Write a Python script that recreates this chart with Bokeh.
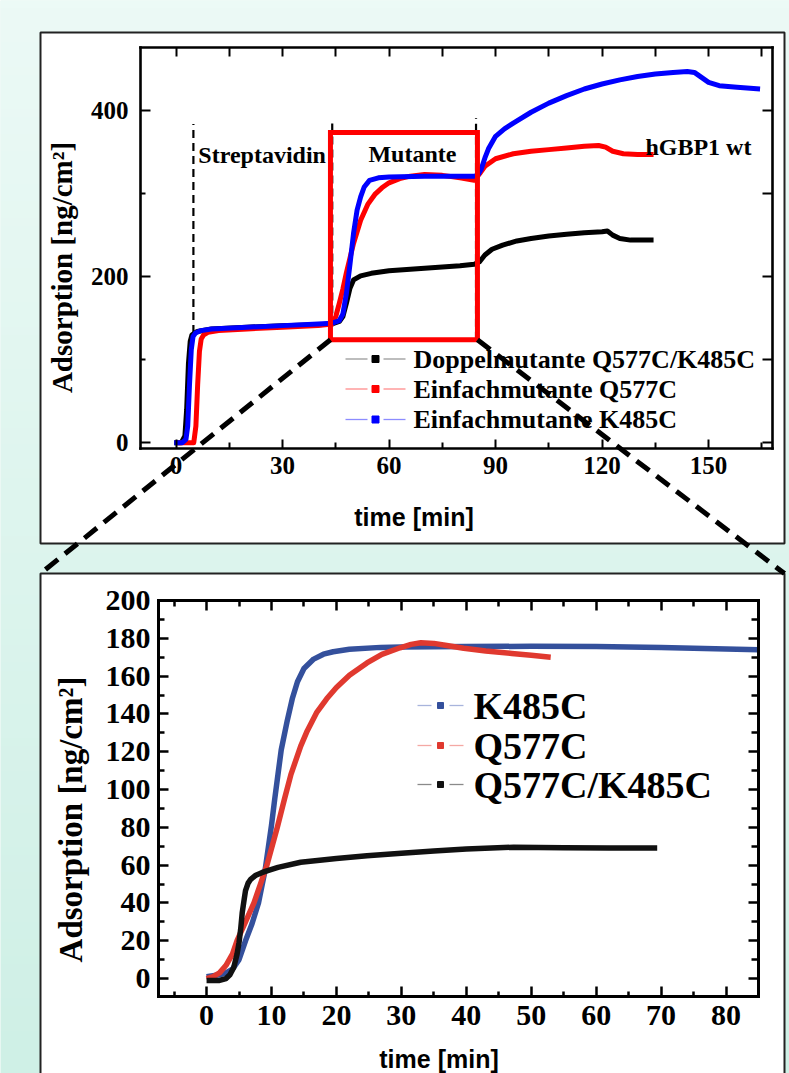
import numpy as np
from bokeh.plotting import figure
from bokeh.models import Range1d, LinearAxis, FixedTicker, CustomJSTickFormatter
from bokeh.core.properties import value
from bokeh.embed import file_html
from bokeh.resources import INLINE

W, H = 789, 1073

# ---------------- overview panel (top): time [min] vs adsorption [ng/cm2] ----------------
ov_t_doppel = [-0.5, 1.5, 2.5, 3.0, 3.5, 4.0, 4.5, 6, 10, 20, 30, 40, 44, 46, 47, 48, 49, 50, 52, 55,
               60, 70, 80, 84, 85.5, 87, 89, 92, 96, 100, 105, 110, 115, 120, 121.5, 123, 125, 128, 134.5]
ov_y_doppel = [0, 0, 8, 40, 95, 122, 130, 134, 137, 139, 141, 142, 143, 146, 152, 168, 186, 196, 201, 204,
               207, 210, 213, 215, 218, 226, 233, 238, 243, 246, 249, 251, 253, 254, 255, 250, 246, 244, 244]

ov_t_q577c = [0.5, 5.0, 5.6, 6.1, 6.6, 7.1, 7.8, 9, 12, 20, 30, 40, 44, 45, 46, 47, 48, 50, 52, 54, 56, 58,
              60, 63, 66, 70, 75, 80, 84, 85.5, 87, 90, 95, 100, 105, 110, 115, 119, 121, 123, 126, 130, 134.5]
ov_y_q577c = [0, 0, 20, 70, 110, 125, 130, 133, 135, 137, 139, 141, 143, 152, 168, 185, 205, 240, 268, 287,
              299, 307, 313, 318, 321, 323, 322, 319, 316, 324, 333, 342, 348, 351, 353, 355, 357, 358, 356,
              351, 348, 347, 347]

ov_t_k485c = [-0.5, 1.8, 2.8, 3.3, 3.8, 4.3, 4.8, 5.5, 7, 10, 20, 30, 40, 44, 46, 47, 48, 49, 50, 51, 52, 53,
              54.5, 57, 60, 70, 80, 84, 85, 86, 87, 88, 90, 92.5, 95, 100, 105, 110, 115, 120, 125, 130, 135,
              140, 144, 146, 148, 150, 153, 158, 164.5]
ov_y_k485c = [0, 0, 4, 20, 70, 112, 128, 132, 135, 137, 139, 141, 143, 144, 147, 155, 180, 215, 252, 280,
              296, 308, 316, 319, 320, 321, 321, 321, 322, 330, 343, 354, 369, 378, 385, 398, 409, 418, 426,
              432, 437, 441, 444, 446, 447, 446, 440, 434, 430, 428, 426]

ov_xlim = (-10, 168)
ov_ylim = (-7, 476)
ov_xticks = [0, 30, 60, 90, 120, 150]
ov_xminor = [15, 45, 75, 105, 135, 165]
ov_yticks = [0, 200, 400]
ov_yminor = [100, 300]

ov_legend_labels = ["Doppelmutante Q577C/K485C", "Einfachmutante Q577C", "Einfachmutante K485C"]
phase_labels = ["Streptavidin", "Mutante", "hGBP1 wt"]
phase_label_t = [6.3, 54.2, 132.2]
phase_label_y = [346, 348, 356]
phase_line_t = [4.9, 44.0, 84.5]
phase_line_top = [384, 388, 391]
phase_line_bottom = [132, 140, 124]
zoom_t0, zoom_t1 = 43.5, 84.9
zoom_y0, zoom_y1 = 124, 373.6

# ---------------- zoom panel (bottom) ----------------
zm_t_k485c = [0, 2, 3, 4, 5, 6, 7, 8, 9, 9.5, 10, 10.5, 11, 11.5, 12.4, 13.2, 14, 15, 16.5, 18,
              19.5, 22, 26.8, 30, 40, 50, 60, 70, 80, 85]
zm_y_k485c = [1, 2, 3, 5, 10, 20, 29, 40, 57, 69, 81, 95, 108, 121, 136, 148, 157, 164, 169, 171.6,
              172.9, 174.2, 175.2, 175.4, 175.6, 175.8, 175.6, 175.2, 174.4, 173.9]

zm_t_q577c = [0, 1, 2, 3, 4, 4.7, 6, 7.3, 8.3, 9.3, 10.9, 12, 13, 14.5, 15.5, 17, 18.5, 20, 22, 24.7,
              27, 29.8, 31.5, 33, 35, 37, 39.6, 43, 47, 50, 53]
zm_y_q577c = [0, 1, 3, 7, 13, 20, 30, 40, 50, 60, 80, 95, 108, 123, 131, 141, 148, 154, 160.5, 167,
              171.5, 175, 176.8, 177.6, 177.3, 176.2, 174.7, 173.3, 172, 171, 170]

zm_t_doppel = [0, 2, 3, 3.6, 4.2, 4.7, 5.0, 5.25, 5.5, 5.8, 6.0, 6.4, 6.8, 7.5, 8.5, 9.3, 11, 14.5, 20,
               24.7, 30, 35, 40, 47.3, 55, 62, 69.4]
zm_y_doppel = [-1, -1, 0, 2, 6, 13, 19, 26, 35, 42, 46.5, 50.5, 52.5, 54.5, 56, 57, 58.8, 61.5, 63.5,
               65, 66.3, 67.5, 68.5, 69.5, 69.2, 69, 69]

zm_xlim = (-7.4, 85)
zm_ylim = (-9.5, 200)
zm_xticks = list(range(0, 81, 10))
zm_xminor = list(range(-5, 86, 10))
zm_yticks = list(range(0, 201, 20))
zm_yminor = list(range(10, 200, 20))
zm_legend_labels = ["K485C", "Q577C", "Q577C/K485C"]

# ---------------- layout (pixels from top-left) ----------------
OV_L, OV_R, OV_T, OV_B = 140, 772, 47, 448
ZM_L, ZM_R, ZM_T, ZM_B = 158, 758, 600, 996


def frame_range(lo, hi, p0, p1, total):
    s = (p1 - p0) / (hi - lo)
    return Range1d(start=lo - p0 / s, end=hi + (total - p1) / s)


def to_px(v, lo, hi, p0, p1):
    return p0 + (v - lo) * (p1 - p0) / (hi - lo)


p = figure(width=W, height=H, x_range=Range1d(0, W), y_range=Range1d(0, H),
           x_axis_type=None, y_axis_type=None, toolbar_location=None,
           output_backend="svg", min_border=0, outline_line_color=None)
p.background_fill_color = "#e2f6ef"
p.border_fill_color = "#e2f6ef"
p.extra_x_ranges = {"ov_x": frame_range(*ov_xlim, OV_L, OV_R, W),
                    "zm_x": frame_range(*zm_xlim, ZM_L, ZM_R, W)}
p.extra_y_ranges = {"ov_y": frame_range(*ov_ylim, H - OV_B, H - OV_T, H),
                    "zm_y": frame_range(*zm_ylim, H - ZM_B, H - ZM_T, H)}

# background gradient
n = 128
frac = np.linspace(0, 1, n)[:, None]
c_bot = np.array([207, 240, 230])
c_top = np.array([236, 250, 246])
rgb = (c_bot + (c_top - c_bot) * frac).astype(np.uint32)
img = ((255 << 24) | (rgb[:, 2] << 16) | (rgb[:, 1] << 8) | rgb[:, 0]).astype(np.uint32).reshape(n, 1)
p.image_rgba(image=[img], x=0, y=0, dw=W, dh=H, level="image")

# white panels
p.quad(left=[40, 40], right=[784, 784], top=[H - 32, H - 573], bottom=[H - 543, -6],
       fill_color="white", line_color="#222222", line_width=2, level="underlay")

SERIF = value("Liberation Serif")
SANS = value("Liberation Sans")


def add_axis(side, xr, yr, loc, bounds, ticks, minor, t_in, m_in, lw, tw, labels=None):
    ax = LinearAxis(x_range_name=xr, y_range_name=yr, fixed_location=loc, bounds=bounds,
                    ticker=FixedTicker(ticks=ticks, minor_ticks=minor),
                    axis_line_width=lw, axis_line_color="black", axis_line_cap="square",
                    major_tick_in=t_in, major_tick_out=0, minor_tick_in=m_in, minor_tick_out=0,
                    major_tick_line_width=tw, minor_tick_line_width=tw,
                    major_tick_line_color="black", minor_tick_line_color="black")
    if labels is None:
        ax.formatter = CustomJSTickFormatter(code="return ''")
    else:
        size, standoff = labels
        ax.major_label_text_font = "Liberation Serif"
        ax.major_label_text_font_style = "bold"
        ax.major_label_text_font_size = size
        ax.major_label_text_color = "black"
        ax.major_label_standoff = standoff
    p.add_layout(ax, side)


# ---- overview axes
add_axis("below", "ov_x", "ov_y", ov_ylim[0], ov_xlim, ov_xticks, ov_xminor, 9, 6, 2.6, 2, ("25px", 8))
add_axis("above", "ov_x", "ov_y", ov_ylim[1], ov_xlim, ov_xticks, ov_xminor, 9, 9, 2.6, 2)
add_axis("left", "ov_x", "ov_y", ov_xlim[0], ov_ylim, ov_yticks, ov_yminor, 10, 5, 2.6, 2, ("25px", 12))
add_axis("right", "ov_x", "ov_y", ov_xlim[1], ov_ylim, ov_yticks, ov_yminor, 10, 10, 2.6, 2)

# ---- zoom axes
add_axis("below", "zm_x", "zm_y", zm_ylim[0], zm_xlim, zm_xticks, zm_xminor, 10, 5, 3, 2.5, ("30px", 9))
add_axis("above", "zm_x", "zm_y", zm_ylim[1], zm_xlim, zm_xticks, zm_xminor, 10, 6, 3, 2.5)
add_axis("left", "zm_x", "zm_y", zm_xlim[0], zm_ylim, zm_yticks, zm_yminor, 10, 6, 3, 2.5, ("30px", 8))
add_axis("right", "zm_x", "zm_y", zm_xlim[1], zm_ylim, zm_yticks, zm_yminor, 10, 7, 3, 2.5)

OV = dict(x_range_name="ov_x", y_range_name="ov_y")
ZM = dict(x_range_name="zm_x", y_range_name="zm_y")

# ---- overview content
p.segment(x0=phase_line_t, y0=phase_line_bottom, x1=phase_line_t, y1=phase_line_top,
          line_color="black", line_width=2.2, line_dash="8 5", **OV)
p.line(ov_t_doppel, ov_y_doppel, line_color="#000000", line_width=5, line_join="round", **OV)
p.line(ov_t_q577c, ov_y_q577c, line_color="#ff0000", line_width=5, line_join="round", **OV)
p.line(ov_t_k485c, ov_y_k485c, line_color="#0000ff", line_width=5, line_join="round", **OV)
p.text(x=phase_label_t, y=phase_label_y, text=phase_labels, text_font=SERIF, text_font_style="bold",
       text_font_size=value("24px"), text_color="black", text_align="left", text_baseline="alphabetic", **OV)
p.quad(left=[zoom_t0], right=[zoom_t1], bottom=[zoom_y0], top=[zoom_y1], fill_color=None,
       line_color="#ff0000", line_width=5, line_join="miter", **OV)

# overview legend (pixel layout)
ov_rows = [H - 358.5, H - 388.5, H - 419]
ov_leg_col = ["#000000", "#ff0000", "#0000ff"]
ov_leg_light = ["#999999", "#ff8c8c", "#8c8cff"]
p.segment(x0=[345] * 3 + [383] * 3, y0=ov_rows * 2, x1=[367] * 3 + [405] * 3, y1=ov_rows * 2,
          line_color=ov_leg_light * 2, line_width=1.3)
p.scatter(x=[375] * 3, y=ov_rows, marker="square", size=7, fill_color=ov_leg_col, line_color=ov_leg_col)
p.text(x=[413] * 3, y=ov_rows, text=ov_legend_labels, text_font=SERIF, text_font_style="bold",
       text_font_size=value("26px"), text_color="black", text_align="left", text_baseline="middle")

# ---- zoom content
p.line(zm_t_k485c, zm_y_k485c, line_color="#34509c", line_width=5.5, line_join="round", **ZM)
p.line(zm_t_q577c, zm_y_q577c, line_color="#e0392f", line_width=5.5, line_join="round", **ZM)
p.line(zm_t_doppel, zm_y_doppel, line_color="#111111", line_width=5.5, line_join="round", **ZM)

zm_rows = [H - 705, H - 745, H - 784]
zm_leg_col = ["#34509c", "#e0392f", "#111111"]
zm_leg_light = ["#a8b4dc", "#f4a8a4", "#8a8a8a"]
p.segment(x0=[417] * 3 + [449] * 3, y0=zm_rows * 2, x1=[431] * 3 + [463] * 3, y1=zm_rows * 2,
          line_color=zm_leg_light * 2, line_width=1.3)
p.scatter(x=[440] * 3, y=zm_rows, marker="square", size=6, fill_color=zm_leg_col, line_color=zm_leg_col)
p.text(x=[473] * 3, y=zm_rows, text=zm_legend_labels, text_font=SERIF, text_font_style="bold",
       text_font_size=value("38px"), text_color="black", text_align="left", text_baseline="middle")

# ---- axis titles
p.text(x=[61, 70], y=[H - 267, H - 819], text=["Adsorption [ng/cm²]", "Adsorption [ng/cm²]"],
       angle=np.pi / 2, text_font=SERIF, text_font_style="bold", text_font_size=["29px", "33px"],
       text_color="black", text_align="center", text_baseline="middle")
p.text(x=[413.5, 438.5], y=[H - 516, H - 1058], text=["time [min]", "time [min]"],
       text_font=SANS, text_font_style="bold", text_font_size=value("25px"),
       text_color="black", text_align="center", text_baseline="middle")

# ---- connector lines from the zoom box to the zoom panel
cx_l = to_px(zoom_t0, *ov_xlim, OV_L, OV_R)
cx_r = to_px(zoom_t1, *ov_xlim, OV_L, OV_R)
cy = to_px(zoom_y0, *ov_ylim, H - OV_B, H - OV_T)
p.segment(x0=[cx_l, cx_r], y0=[cy, cy], x1=[40, 784], y1=[H - 573, H - 573],
          line_color="black", line_width=5, line_dash="16 9", level="overlay")

open("out.html", "w").write(file_html(p, INLINE))
